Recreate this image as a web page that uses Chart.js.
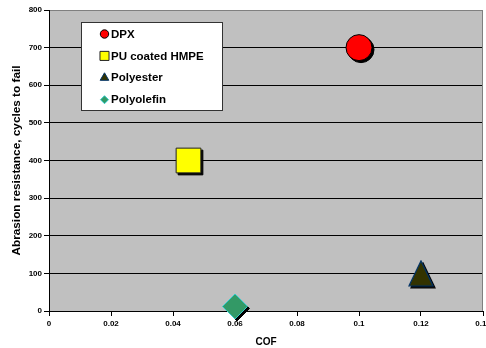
<!DOCTYPE html>
<html>
<head>
<meta charset="utf-8">
<script src="https://cdn.jsdelivr.net/npm/chart.js@4/dist/chart.umd.min.js"></script>
<style>
  html, body { margin: 0; padding: 0; background: #fff; overflow: hidden; }
  #wrap { width: 486px; height: 348px; }
</style>
</head>
<body>
<div id="wrap"><canvas id="chart"></canvas></div>
<script>
// values
const seriesNames = ['DPX', 'PU coated HMPE', 'Polyester', 'Polyolefin'];
const cofValues = [0.1, 0.045, 0.12, 0.06];
const cyclesToFail = [700, 400, 100, 12];
const xTickLabels = ['0', '0.02', '0.04', '0.06', '0.08', '0.1', '0.12', '0.14'];
const yTickLabels = ['0', '100', '200', '300', '400', '500', '600', '700', '800'];

const FONT = '"Liberation Sans", Arial, sans-serif';

// excel style triangle (isosceles, centred on its box)
function triangleImage(w, h, fill, stroke) {
  const cv = document.createElement('canvas');
  cv.width = w + 2;
  cv.height = h + 2;
  const c = cv.getContext('2d');
  c.beginPath();
  c.moveTo(1 + w / 2, 1);
  c.lineTo(1 + w, 1 + h);
  c.lineTo(1, 1 + h);
  c.closePath();
  c.fillStyle = fill;
  c.fill();
  c.lineWidth = 1.2;
  c.strokeStyle = stroke;
  c.stroke();
  return cv;
}

const markerStyles = [
  { pointStyle: 'circle', shadow: 'circle', legend: 'circle', radius: 13, legendRadius: 4.2, fill: '#ff0000', stroke: '#000000' },
  { pointStyle: 'rect', shadow: 'rect', legend: 'rect', radius: 17.5, legendRadius: 6.4, fill: '#ffff00', stroke: '#222222' },
  { pointStyle: triangleImage(24, 25, '#333300', '#003366'), shadow: triangleImage(24, 25, '#000', '#000'), legend: 'triangle', radius: 14, legendRadius: 5, fill: '#333300', stroke: '#003366' },
  { pointStyle: 'rectRot', shadow: 'rectRot', legend: 'rectRot', radius: 12.5, legendRadius: 4, fill: '#339966', stroke: '#33cccc' }
];

const datasets = seriesNames.map((name, i) => ({
  label: name,
  data: [{ x: cofValues[i], y: cyclesToFail[i] }],
  pointStyle: markerStyles[i].pointStyle,
  pointRadius: markerStyles[i].radius,
  pointHoverRadius: markerStyles[i].radius,
  backgroundColor: markerStyles[i].fill,
  borderColor: markerStyles[i].stroke,
  pointBorderWidth: 1,
  shadowStyle: markerStyles[i].shadow,
  legendStyle: markerStyles[i].legend,
  legendRadius: markerStyles[i].legendRadius,
  clip: false
}));

// grey plot area, right border, marker shadows
const plotArea = {
  id: 'plotArea',
  beforeDraw(chart) {
    const a = chart.chartArea, c = chart.ctx;
    c.save();
    c.fillStyle = '#c0c0c0';
    c.fillRect(a.left, a.top, a.right - a.left, a.bottom - a.top);
    c.restore();
  },
  beforeDatasetsDraw(chart) {
    const a = chart.chartArea, c = chart.ctx;
    c.save();
    c.strokeStyle = '#808080';
    c.lineWidth = 1;
    c.beginPath();
    c.moveTo(a.right - 0.5, a.top);
    c.lineTo(a.right - 0.5, a.bottom);
    c.stroke();
    c.fillStyle = '#000';
    c.strokeStyle = '#000';
    chart.data.datasets.forEach((ds, i) => {
      chart.getDatasetMeta(i).data.forEach(pt => {
        Chart.helpers.drawPoint(c, { pointStyle: ds.shadowStyle, radius: ds.pointRadius, borderWidth: 1, rotation: 0 }, pt.x + 2, pt.y + 2);
      });
    });
    c.restore();
  }
};

// legend box inside the plot
const boxLegend = {
  id: 'boxLegend',
  afterDraw(chart) {
    const c = chart.ctx;
    const x0 = 81, y0 = 22, w = 142, h = 89;
    c.save();
    c.fillStyle = '#fff';
    c.fillRect(x0, y0, w, h);
    c.strokeStyle = '#333';
    c.lineWidth = 1;
    c.strokeRect(x0 + 0.5, y0 + 0.5, w - 1, h - 1);
    c.font = 'bold 11.5px ' + FONT;
    c.textBaseline = 'middle';
    chart.data.datasets.forEach((ds, i) => {
      const y = 34 + i * 21.9;
      c.fillStyle = ds.backgroundColor;
      c.strokeStyle = ds.borderColor;
      c.lineWidth = 1;
      Chart.helpers.drawPoint(c, { pointStyle: ds.legendStyle, radius: ds.legendRadius, borderWidth: 1, rotation: 0 }, 104.5, y);
      c.fillStyle = '#000';
      c.fillText(ds.label, 111, y + 0.5);
    });
    c.restore();
  }
};

new Chart(document.getElementById('chart'), {
  type: 'scatter',
  data: { datasets: datasets },
  options: {
    responsive: true,
    maintainAspectRatio: false,
    animation: false,
    layout: { autoPadding: false, padding: { top: 10, right: 3, left: 0, bottom: 0 } },
    plugins: { legend: { display: false }, tooltip: { enabled: false } },
    scales: {
      x: {
        type: 'linear',
        min: 0,
        max: 0.14,
        ticks: {
          stepSize: 0.02,
          color: '#000',
          font: { family: FONT, size: 8, weight: 'bold' },
          padding: 3,
          maxRotation: 0,
          callback: (v, i) => xTickLabels[i]
        },
        grid: { drawOnChartArea: false, drawTicks: true, tickLength: 5, tickColor: '#000' },
        border: { color: '#000', width: 1 },
        title: {
          display: true,
          text: 'COF',
          color: '#000',
          font: { family: FONT, size: 10, weight: 'bold' },
          padding: { top: 0, bottom: 0 }
        },
        afterFit(scale) { scale.height = 37; scale.paddingRight = 0; }
      },
      y: {
        min: 0,
        max: 800,
        ticks: {
          stepSize: 100,
          color: '#000',
          font: { family: FONT, size: 8, weight: 'bold' },
          padding: 2,
          callback: (v, i) => yTickLabels[i]
        },
        grid: {
          color: ctx => (ctx.tick && ctx.tick.value === 800 ? '#808080' : '#000'),
          lineWidth: 1,
          drawTicks: true,
          tickLength: 5,
          tickColor: '#000'
        },
        border: { color: '#000', width: 1 },
        title: {
          display: true,
          text: 'Abrasion resistance, cycles to fail',
          color: '#000',
          font: { family: FONT, size: 11.8, weight: 'bold' },
          padding: { top: 10, bottom: 0 }
        },
        afterFit(scale) { scale.width = 49; }
      }
    }
  },
  plugins: [plotArea, boxLegend]
});
</script>
</body>
</html>
